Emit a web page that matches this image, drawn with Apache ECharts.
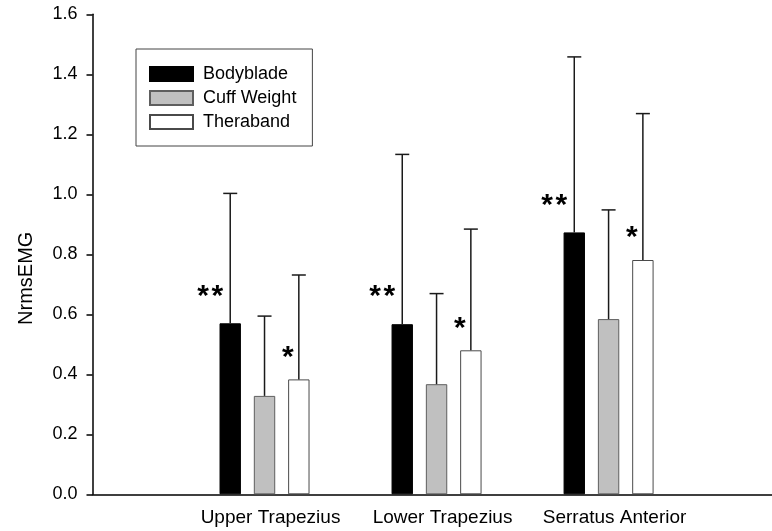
<!DOCTYPE html>
<html>
<head>
<meta charset="utf-8">
<script src="https://cdn.jsdelivr.net/npm/echarts@6/dist/echarts.min.js"></script>
<style>html,body{margin:0;padding:0;background:#fff}#c{width:772px;height:531px}</style>
</head>
<body>
<div id="c"></div>
<script>
// ---- data ----
const categories = ['Upper Trapezius', 'Lower Trapezius', 'Serratus Anterior'];
const groupPos = [1, 2, 3];
const seriesNames = ['Bodyblade', 'Cuff Weight', 'Theraband'];
const bodyblade = [0.570, 0.567, 0.873];
const cuffWeight = [0.328, 0.367, 0.584];
const theraband = [0.383, 0.480, 0.781];
const bodybladeSD = [0.433, 0.566, 0.585];
const cuffWeightSD = [0.266, 0.302, 0.364];
const therabandSD = [0.348, 0.404, 0.488];
const bodybladeSig = ['**', '**', '**'];
const cuffWeightSig = ['', '', ''];
const therabandSig = ['*', '*', '*'];
const yTicks = [0, 0.2, 0.4, 0.6, 0.8, 1.0, 1.2, 1.4, 1.6];

// ---- styling ----
const FONT = 'Liberation Sans, Arial, sans-serif';
const BAR_W = 21.4, BAR_GAP = 12.9;
const STEP = BAR_W + BAR_GAP;
const fills = ['#000000', '#c0c0c0', '#ffffff'];
const borders = ['#000000', '#5e5e5e', '#4a4a4a'];
const means = [bodyblade, cuffWeight, theraband];
const sds = [bodybladeSD, cuffWeightSD, therabandSD];
const sigs = [bodybladeSig, cuffWeightSig, therabandSig];
const sigDx = [-20, 0, -11];
const sigDy = [27, 0, 22];

const barSeries = seriesNames.map((name, i) => ({
  name: name,
  type: 'bar',
  barWidth: BAR_W,
  barGap: (BAR_GAP / BAR_W * 100).toFixed(1) + '%',
  data: groupPos.map((x, k) => [x, means[i][k]]),
  itemStyle: { color: fills[i], borderColor: borders[i], borderWidth: 1 },
  emphasis: { disabled: true },
  z: 2
}));

const errSeries = seriesNames.map((name, i) => ({
  name: name + ' err',
  type: 'custom',
  data: groupPos.map((x, k) => [x, means[i][k], sds[i][k], k]),
  renderItem: function (params, api) {
    const base = api.coord([api.value(0), api.value(1)]);
    const top = api.coord([api.value(0), api.value(1) + api.value(2)]);
    const x = base[0] + (i - 1) * STEP;
    const sty = { stroke: '#1a1a1a', lineWidth: 1.5 };
    const children = [
      { type: 'line', shape: { x1: x, y1: base[1], x2: x, y2: top[1] }, style: sty },
      { type: 'line', shape: { x1: x - 7, y1: top[1], x2: x + 7, y2: top[1] }, style: sty }
    ];
    const s = sigs[i][api.value(3)];
    if (s) {
      children.push({
        type: 'text',
        style: {
          text: s.split('').join('\u200A'), x: x + sigDx[i], y: base[1] - sigDy[i],
          align: 'center', verticalAlign: 'middle',
          fill: '#000', font: 'bold 30px ' + FONT
        }
      });
    }
    return { type: 'group', children: children };
  },
  z: 3,
  silent: true
}));

const option = {
  animation: false,
  backgroundColor: '#ffffff',
  grid: { left: 92.5, right: 0, top: 14.3, bottom: 36.7, containLabel: false },
  legend: {
    data: seriesNames,
    orient: 'vertical',
    left: 136, top: 49,
    backgroundColor: '#ffffff',
    borderColor: '#444444', borderWidth: 1,
    padding: [16, 16, 15, 13],
    itemWidth: 43, itemHeight: 14, itemGap: 6,
    icon: 'rect',
    textStyle: { fontSize: 18, fontFamily: FONT, color: '#000', padding: [0, 0, 0, 5] },
    selectedMode: false
  },
  xAxis: {
    type: 'value',
    min: 0, max: 3.95, interval: 1,
    splitLine: { show: false },
    axisTick: { show: false },
    axisLine: { show: true, onZero: false, lineStyle: { color: '#000', width: 1.5 } },
    axisLabel: {
      fontSize: 19, fontFamily: FONT, color: '#000', margin: 14,
      padding: [0, 0, 0, 12],
      showMinLabel: false, showMaxLabel: false,
      formatter: function (v) {
        const idx = groupPos.indexOf(v);
        return idx >= 0 ? categories[idx] : '';
      }
    }
  },
  yAxis: {
    type: 'value',
    min: yTicks[0], max: yTicks[yTicks.length - 1], interval: 0.2,
    name: 'NrmsEMG',
    nameLocation: 'middle',
    nameGap: 56,
    nameRotate: 90,
    nameTextStyle: { fontSize: 20, fontFamily: FONT, color: '#000', padding: [0, 48, 0, 0] },
    splitLine: { show: false },
    axisLine: { show: true, lineStyle: { color: '#000', width: 1.5 } },
    axisTick: { show: true, length: 6, lineStyle: { color: '#000', width: 1.5 } },
    axisLabel: {
      fontSize: 18, fontFamily: FONT, color: '#000', margin: 15,
      formatter: function (v) { return v.toFixed(1); }
    }
  },
  series: barSeries.concat(errSeries)
};

const chart = echarts.init(document.getElementById('c'), null, { renderer: 'canvas' });
chart.setOption(option);
</script>
</body>
</html>
